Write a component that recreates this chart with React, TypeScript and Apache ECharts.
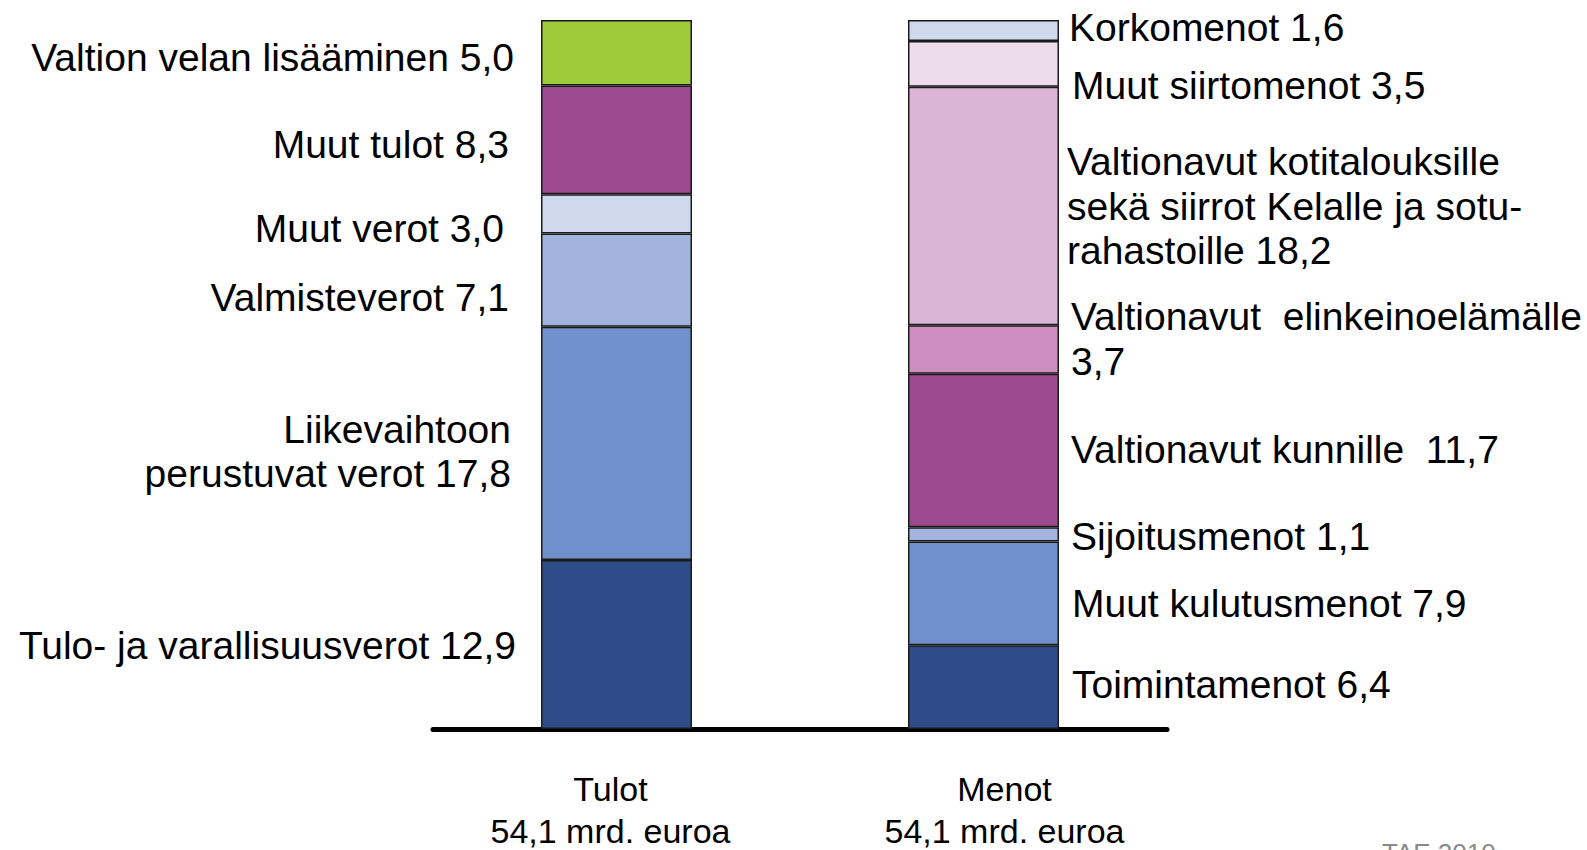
import React, { useEffect, useRef } from "react";
import * as echarts from "echarts";

const categories = ["Tulot", "Menot"];

const tulotNames = [
  "Tulo- ja varallisuusverot",
  "Liikevaihtoon\nperustuvat verot",
  "Valmisteverot",
  "Muut verot",
  "Muut tulot",
  "Valtion velan lisääminen",
];
const tulotValues = [12.9, 17.8, 7.1, 3.0, 8.3, 5.0];

const menotNames = [
  "Toimintamenot",
  "Muut kulutusmenot",
  "Sijoitusmenot",
  "Valtionavut kunnille ",
  "Valtionavut  elinkeinoelämälle\n",
  "Valtionavut kotitalouksille\nsekä siirrot Kelalle ja sotu-\nrahastoille",
  "Muut siirtomenot",
  "Korkomenot",
];
const menotValues = [6.4, 7.9, 1.1, 11.7, 3.7, 18.2, 3.5, 1.6];

const unitText = "mrd. euroa";
const sourceText = "TAE 2010";

// styles
const tulotColors = ["#2E4C87", "#7090CB", "#A2B4DD", "#CED9ED", "#9E4A90", "#9FCB3A"];
const menotColors = ["#2E4C87", "#7090CB", "#A2B4DD", "#9E4A90", "#CC8FC0", "#DBB4D6", "#EDDCEC", "#CED9ED"];
const tulotLabelDist = [25, 30, 32, 37, 32, 27];
const tulotLabelDy = [1.5, 8, 17, 15, 5, 5];
const menotLabelDist = [13, 13, 12, 12, 12, 8, 13, 10];
const menotLabelDy = [-3, 10, 2, -1.5, -10.5, 0, 22, -2.5];

const FONT = "'Liberation Sans', Arial, sans-serif";

const fmt = (v: number) => v.toFixed(1).replace(".", ",");
const labelText = (name: string, v: number) =>
  name + (name.endsWith("\n") ? "" : " ") + fmt(v);

export default function App() {
  const ref = useRef<HTMLDivElement>(null);

  useEffect(() => {
    if (!ref.current) return;
    const chart = echarts.init(ref.current, undefined, { renderer: "svg" });

    const sumT = tulotValues.reduce((a, b) => a + b, 0);
    const sumM = menotValues.reduce((a, b) => a + b, 0);
    const totals = [sumT, sumM];
    const maxV = Math.max(sumT, sumM);

    const barBase = {
      type: "bar",
      stack: "total",
      barWidth: 151,
      itemStyle: { borderColor: "#1a1a1a", borderWidth: 1.5 },
    };

    const labelFont = {
      color: "#000",
      fontFamily: FONT,
      fontSize: 39,
      lineHeight: 44.5,
    };

    const tulotSeries = tulotValues.map((v, i) => ({
      ...barBase,
      name: tulotNames[i],
      data: [v, "-"],
      itemStyle: { ...barBase.itemStyle, color: tulotColors[i] },
      label: {
        show: true,
        position: "left",
        distance: tulotLabelDist[i],
        offset: [0, tulotLabelDy[i]],
        align: "right",
        ...labelFont,
        formatter: () => labelText(tulotNames[i], v),
      },
    }));

    const menotSeries = menotValues.map((v, i) => ({
      ...barBase,
      name: menotNames[i],
      data: ["-", v],
      itemStyle: { ...barBase.itemStyle, color: menotColors[i] },
      label: {
        show: true,
        position: "right",
        distance: menotLabelDist[i],
        offset: [0, menotLabelDy[i]],
        align: "left",
        ...labelFont,
        formatter: () => labelText(menotNames[i], v),
      },
    }));

    const axisRich = (padL: number, padR: number, first: boolean) =>
      first
        ? {
            fontFamily: FONT,
            fontSize: 34,
            height: 32,
            color: "#000",
            align: "center",
            verticalAlign: "top",
            padding: [0, padR, 13, padL],
          }
        : {
            fontFamily: FONT,
            fontSize: 34,
            lineHeight: 26,
            color: "#000",
            align: "center",
            padding: [0, padR, 0, padL],
          };

    chart.setOption({
      animation: false,
      backgroundColor: "#fff",
      grid: { left: 433, right: 420, top: 20, bottom: 121, containLabel: false },
      xAxis: {
        type: "category",
        data: categories,
        axisLine: { show: true, lineStyle: { color: "#000", width: 5 } },
        axisTick: { show: false },
        axisLabel: {
          margin: 44,
          interval: 0,
          formatter: (val: string, idx: number) => {
            const k = idx === 0 ? "a" : "b";
            return `{${k}1|${val}}\n{${k}2|${fmt(totals[idx])} ${unitText}}`;
          },
          rich: {
            a1: axisRich(0, 12, true),
            a2: axisRich(0, 12, false),
            b1: axisRich(42, 0, true),
            b2: axisRich(42, 0, false),
          },
        },
      },
      yAxis: { type: "value", min: 0, max: maxV, show: false },
      series: [...tulotSeries, ...menotSeries],
      graphic: [
        {
          type: "text",
          left: 1382,
          top: 840,
          style: { text: sourceText, fill: "#8a8a8a", fontSize: 26, fontFamily: FONT },
        },
      ],
    });

    return () => chart.dispose();
  }, []);

  return (
    <div
      ref={ref}
      style={{ position: "fixed", left: 0, top: 0, width: 1587, height: 850, background: "#fff" }}
    />
  );
}
